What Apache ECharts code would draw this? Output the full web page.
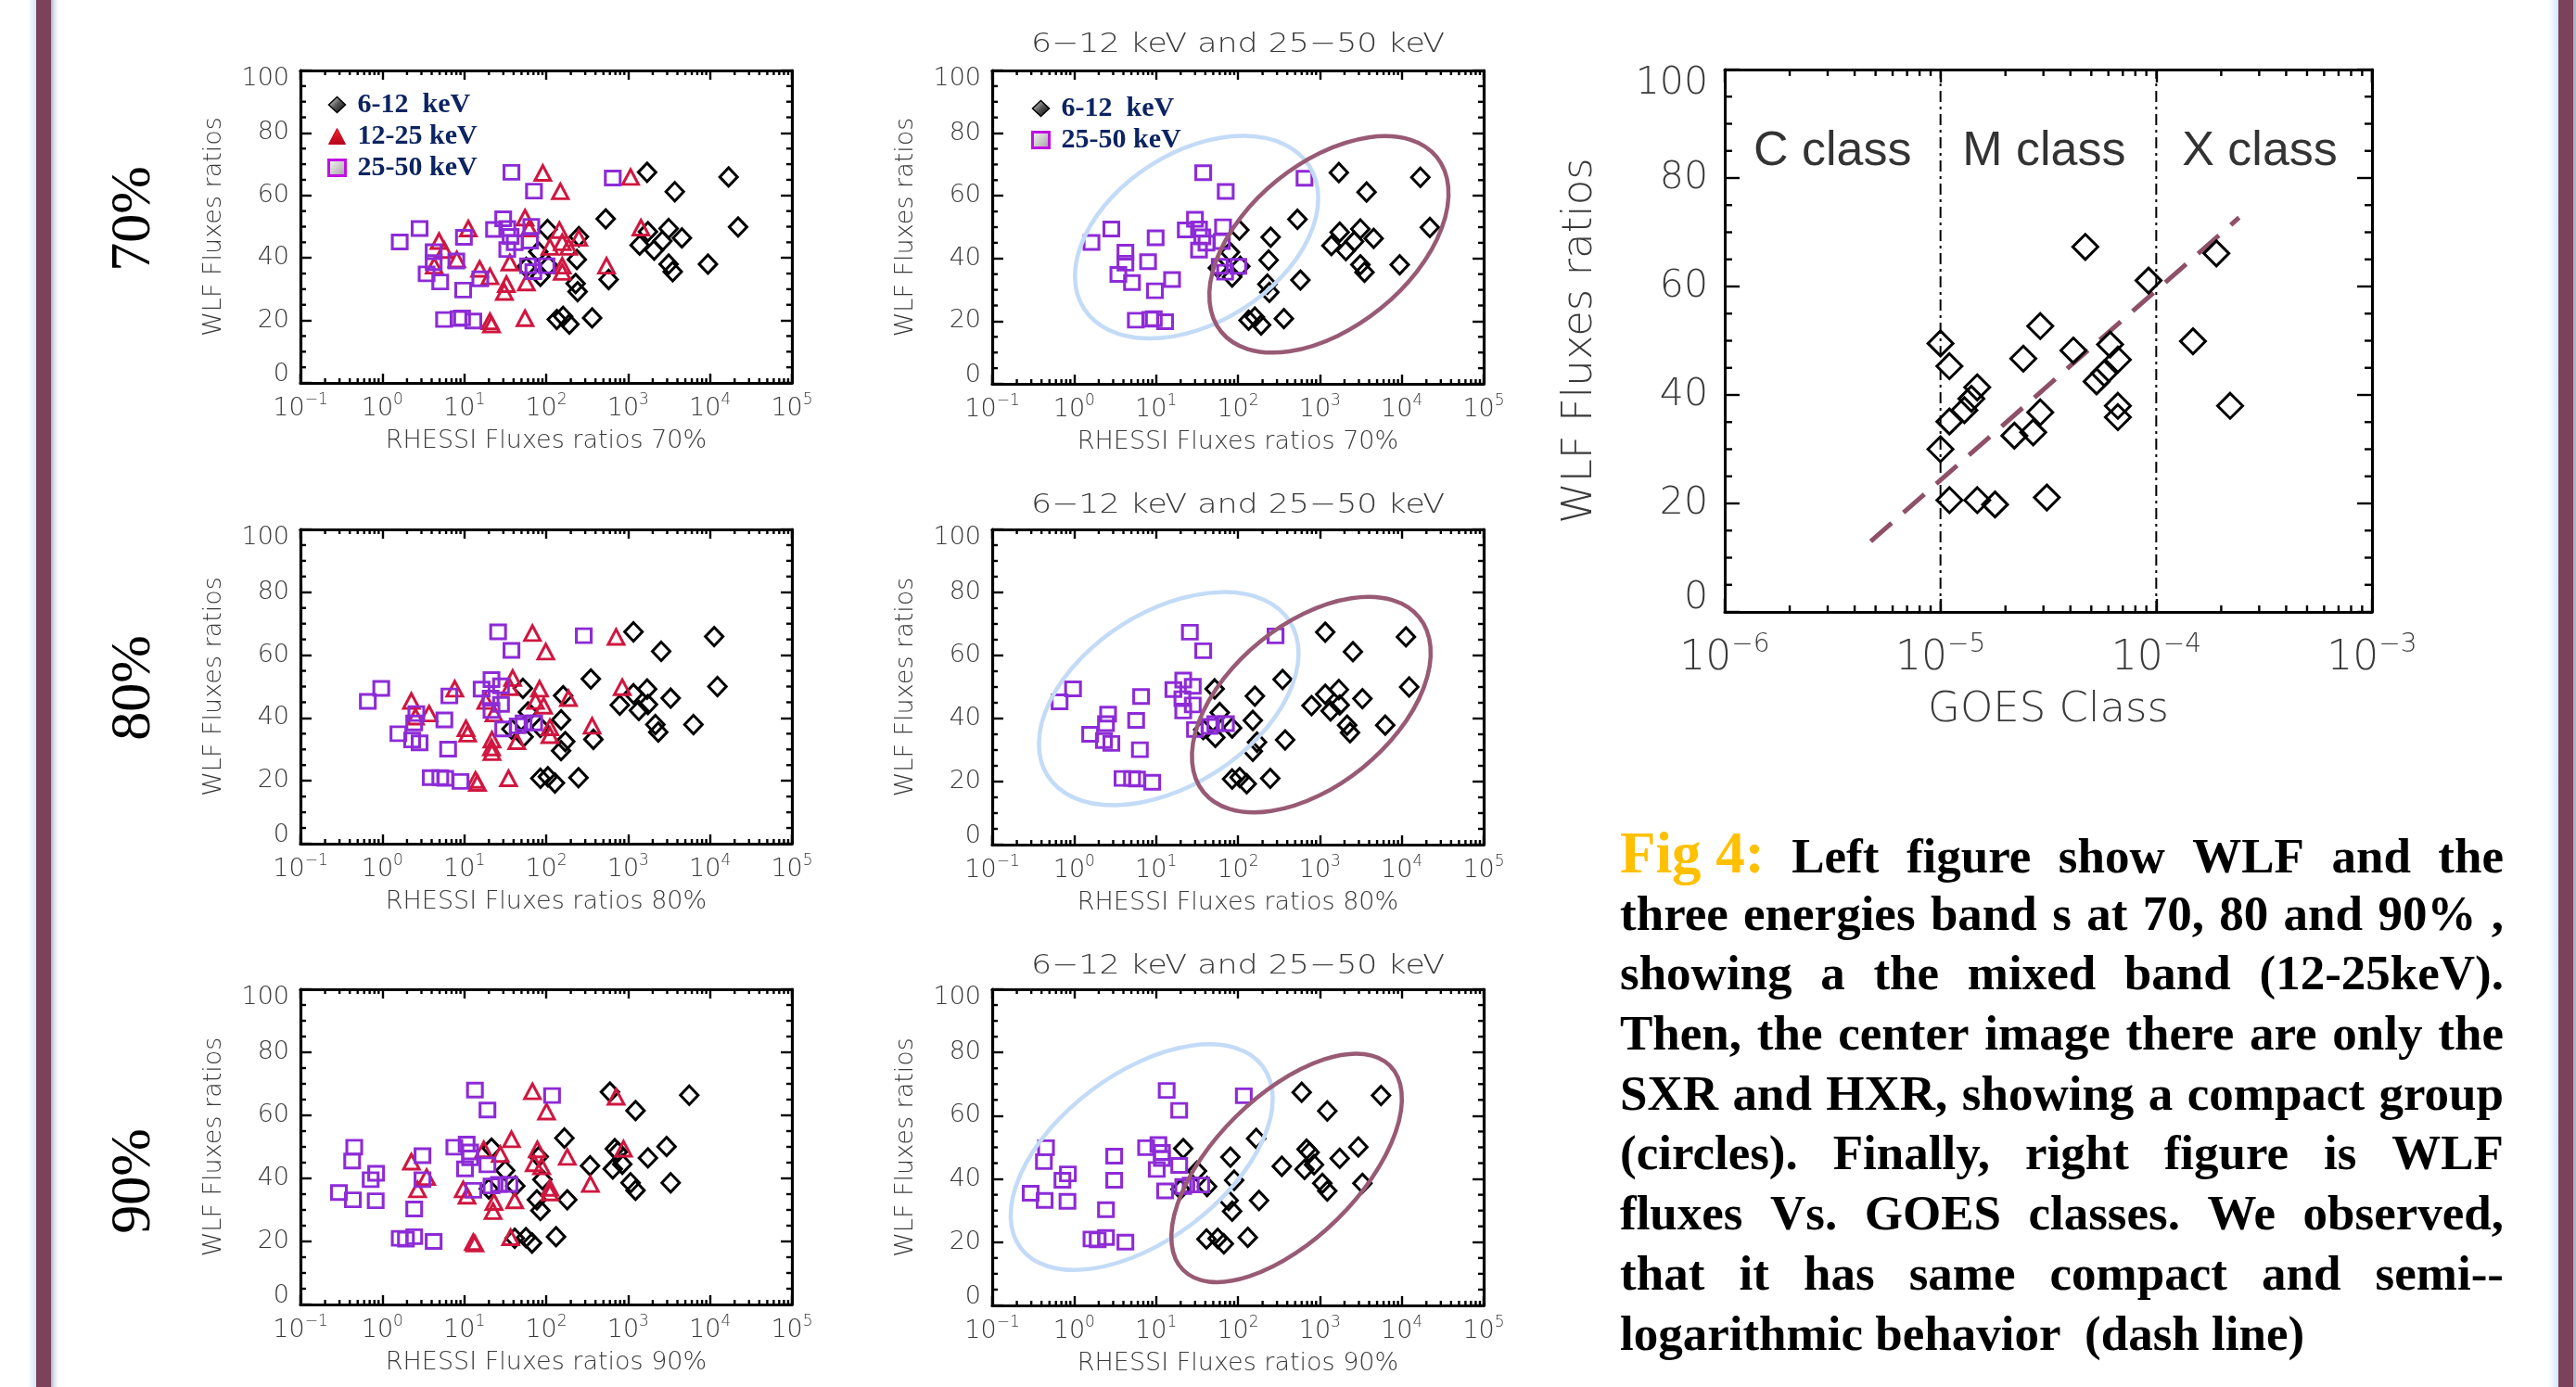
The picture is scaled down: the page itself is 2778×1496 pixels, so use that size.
<!DOCTYPE html>
<html>
<head>
<meta charset="utf-8">
<script src="https://cdn.jsdelivr.net/npm/echarts@6/dist/echarts.min.js"></script>
<style>
html,body{margin:0;padding:0;background:#fff;}
#chart{position:absolute;left:0;top:0;width:2778px;height:1496px;}
#cap{position:absolute;left:1747px;top:888px;width:953px;font-family:'Liberation Serif','Times New Roman',serif;font-weight:bold;font-size:53px;line-height:64.7px;color:#000;}
#cap .l{display:flex;justify-content:space-between;align-items:baseline;white-space:nowrap;height:64.7px;}
#cap .last{justify-content:flex-start;white-space:pre;}
#cap .fig{color:#FFC000;font-size:63px;}
</style>
</head>
<body>
<div id="chart"></div>
<div id="cap"></div>
<script>
// ---------------- data ----------------
const rowLabels = ['70%', '80%', '90%'];
const xAxisNames = ['RHESSI Fluxes ratios 70%', 'RHESSI Fluxes ratios 80%', 'RHESSI Fluxes ratios 90%'];
const yAxisName = 'WLF Fluxes ratios';
const centerTitle = '6\u221212 keV and 25\u221250 keV';
const bandNames = ['6-12  keV', '12-25 keV', '25-50 keV'];

// 70 %
const d70 = [[1707,67.4],[16870,65.9],[3720,61.2],[533,52.5],[104,49.1],[251,46.8],[1384,44.1],[1747,48.4],[2080,42.5],[2624,45.4],[3126,49.4],[4540,46.4],[22030,49.9],[9440,38.0],[3126,38.0],[3508,35.6],[237,39.5],[579,33.1],[229,31.8],[242,29.2],[107,37.5],[85,34.1],[57,37.0],[80,42.0],[135,20.3],[161,21.3],[192,18.8],[364,20.8]];
const t70 = [[91,67.2],[149,61.3],[1072,65.9],[1435,49.7],[11.2,49.4],[4.92,45.4],[5.7,42.5],[8.1,39.5],[4.3,37.5],[15.4,36.5],[20.6,34.1],[32.7,31.6],[30.9,29.1],[36.0,38.5],[55.2,52.9],[62.1,49.4],[57.3,32.1],[145,48.9],[250,46.4],[111,43.5],[157,45.0],[188,43.5],[157,37.5],[157,35.5],[546,37.5],[20.6,19.7],[21.5,18.7],[55.2,20.7]];
const s70 = [[37.7,67.4],[71,61.4],[1.63,45.1],[2.85,49.4],[4.23,42.0],[4.23,38.5],[3.47,34.9],[5.09,32.3],[8.0,39.0],[9.9,46.6],[9.7,29.7],[15.7,33.3],[5.67,20.3],[8.5,20.6],[9.4,20.8],[12.9,19.8],[23.1,49.1],[29.9,52.5],[33.5,49.4],[36.8,46.9],[33.5,42.7],[41.3,44.9],[65.8,50.1],[63.5,45.4],[60,37.5],[69.7,35.6],[101,37.5],[650,65.6]];
// 80 %
const d80 = [[1164,67.4],[11250,65.9],[2535,61.2],[351,52.4],[52,49.4],[161,47.1],[792,44.1],[1164,47.7],[1353,42.4],[1707,49.2],[1747,44.3],[3311,46.3],[12330,50.0],[6283,37.9],[2154,37.9],[2337,35.5],[152,39.4],[377,33.2],[171,32.5],[152,29.6],[85,37.0],[53,34.0],[37.7,36.5],[60,41.9],[85,20.8],[105,21.3],[128,19.3],[248,21.0]];
const t80 = [[68,67.0],[99,61.1],[714,65.8],[849,49.8],[7.66,49.3],[2.26,45.4],[3.72,41.4],[2.54,40.4],[10.5,36.7],[11.0,35.0],[21.8,33.1],[21.5,30.6],[21.8,29.1],[39,52.7],[36,49.8],[23.1,41.4],[18.3,45.4],[43.8,32.6],[83,49.3],[74,45.4],[93,43.9],[187,46.3],[111,37.0],[111,34.5],[364,37.5],[13.7,20.3],[14.5,19.3],[34.7,20.8]];
const s80 = [[25.9,67.4],[37.7,61.5],[0.665,45.3],[0.97,49.4],[2.6,41.4],[2.45,38.4],[1.57,35.0],[2.31,33.0],[2.85,32.1],[5.72,39.4],[6.58,47.0],[6.35,30.1],[3.9,21.0],[5.1,21.0],[5.86,20.8],[9.0,19.8],[16.3,49.2],[21.5,52.2],[28.1,50.2],[21.0,46.3],[21.5,42.4],[28.1,44.3],[29.9,36.5],[44.9,37.5],[53,38.4],[71.4,38.4],[288,66.2]];
// 90 %
const d90 = [[600,67.4],[5585,66.4],[1233,61.5],[167,52.8],[21.5,49.6],[81,46.9],[343,44.0],[650,43.0],[689,49.4],[750,48.4],[849,44.5],[1747,46.5],[2951,50.1],[3311,38.6],[1072,38.6],[1233,36.2],[90,39.6],[181,33.2],[77,33.2],[85,29.8],[42,37.6],[31.6,42.5],[19.9,36.7],[41.3,21.0],[56.6,21.2],[67.3,19.5],[132,21.5]];
const t90 = [[68,67.6],[101,61.2],[714,65.9],[879,49.4],[37.7,52.4],[27.5,47.7],[17.3,49.2],[2.26,45.3],[3.47,40.4],[2.69,36.5],[9.7,36.5],[10.8,34.5],[23.1,32.5],[22.5,29.6],[41.3,33.0],[78,49.2],[71.5,44.8],[88,43.8],[181,46.8],[111,37.0],[111,35.5],[347,38.2],[12.9,19.8],[13.5,19.3],[36.8,21.3]];
const s90 = [[13.5,68.0],[19.2,61.7],[118,66.3],[0.454,49.9],[0.428,45.5],[0.295,35.5],[0.437,33.2],[0.72,39.6],[0.84,41.6],[0.83,32.9],[3.09,47.2],[3.09,39.6],[2.45,30.3],[1.63,21.0],[1.94,20.7],[2.45,21.5],[4.23,20.0],[7.57,49.9],[10.7,50.9],[11.8,48.4],[10.2,43.0],[11.8,46.5],[19.2,44.3],[12.9,36.2],[21.5,37.6],[26.5,38.1],[35.6,38.1]];

// group ellipse centres (data units) for the centre panels
const blueCentres = [[31.3,46.8],[14.3,46.3],[6.69,46.9]];
const purpleCentres = [[1291,44.5],[787,44.4],[393,43.5]];

// GOES panel
const goesX = [1.0e-5,1.10e-5,1.48e-5,1.39e-5,1.29e-5,1.10e-5,1.0e-5,1.10e-5,1.48e-5,1.79e-5,2.20e-5,2.69e-5,2.90e-5,2.42e-5,2.90e-5,3.11e-5,4.13e-5,4.69e-5,5.29e-5,5.74e-5,6.11e-5,6.64e-5,6.64e-5,6.64e-5,9.21e-5,1.48e-4,1.90e-4,2.20e-4];
const goesY = [49.5,45.3,41.4,39.3,37.2,35.1,30.0,20.6,20.6,19.8,32.5,33.1,36.8,46.7,52.7,21.1,48.2,67.3,42.5,44.0,49.3,46.5,38.0,35.9,61.1,49.9,66.1,38.0];
const fitX = [4.75e-6, 2.42e-4];
const fitY = [13.0, 72.7];
const classBounds = [1e-5, 1e-4];
const classNames = ['C class', 'M class', 'X class'];
const classX = [3.16e-6, 3.02e-5, 3.02e-4];
const classY = [84.8, 84.8, 84.8];

const capPrefix = 'Fig 4:';
const capLines = [
  'Left figure show WLF and the',
  'three energies band s at  70, 80 and 90% ,',
  'showing a the mixed band (12-25keV).',
  'Then, the center image there are only the',
  'SXR and HXR, showing a compact group',
  '(circles). Finally, right figure is WLF',
  'fluxes Vs. GOES classes. We observed,',
  'that it has same compact and semi--',
  'logarithmic behavior  (dash line)'
];

// ---------------- styles ----------------
const FONT_IDL = "'DejaVu Sans', 'Liberation Sans', sans-serif";
const IDL_W = 200;
const IDL_C = '#3a3a3a';
const C_DIAM = '#000000', C_TRI = '#d0163f', C_SQ = '#8d2bd6';
const C_BLUE = '#c3dbf7', C_PURP = '#985a74';

const smallBoxes = [
  [324, 76, 530, 337], [1070, 76, 530, 338],
  [324, 571, 530, 339], [1070, 571, 530, 340],
  [324, 1067, 530, 340], [1070, 1067, 530, 341]
];
const bigBox = [1860, 75, 698, 585];
const ellipseShapes = [
  {blue:{rx:143.8, ry:92.0, rot:32.2}, purple:{rx:149.6, ry:88.8, rot:39.0}},
  {blue:{rx:154.8, ry:94.1, rot:32.5}, purple:{rx:149.7, ry:87.7, rot:39.0}},
  {blue:{rx:163.2, ry:90.2, rot:36.9}, purple:{rx:156.8, ry:77.8, rot:44.6}}
];

// ---------------- helpers ----------------
const grids = [], xAxes = [], yAxes = [], series = [];

function logLabel(fs, ss) {
  return {
    formatter: v => { const e = Math.round(Math.log10(v)); return '{b|10}{s|' + (e < 0 ? '\u2212' + (-e) : e) + '}'; },
    rich: {
      b: {fontSize: fs, lineHeight: Math.round(fs * 1.32), fontFamily: FONT_IDL, fontWeight: IDL_W, color: IDL_C},
      s: {fontSize: ss, lineHeight: ss, verticalAlign: 'top', fontFamily: FONT_IDL, fontWeight: IDL_W, color: IDL_C}
    }
  };
}
function yLabel(fs, shift) {
  const base = {fontSize: fs, fontFamily: FONT_IDL, fontWeight: IDL_W, color: IDL_C};
  return Object.assign({}, base, {
    formatter: v => v === 100 ? '{t|100}' : (v === 0 ? '{z|0}' : String(v)),
    rich: {t: Object.assign({padding: [shift * 2, 0, 0, 0]}, base), z: Object.assign({padding: [0, 0, shift * 2, 0]}, base)}
  });
}
function logMinor(minV, maxV) {
  const out = [];
  for (let e = Math.round(Math.log10(minV)); e < Math.round(Math.log10(maxV)); e++)
    for (let k = 2; k <= 9; k++) out.push(Number((k * Math.pow(10, e)).toPrecision(3)));
  return out;
}
function linMinor() {
  const out = [];
  for (let v = 5; v < 100; v += 5) if (v % 20 !== 0) out.push(v);
  return out;
}
function minorSeries(xi, yi, o) {
  const xs = logMinor(o.xMin, o.xMax), ys = linMinor();
  const st = {stroke: '#000', lineWidth: o.tw};
  return [{
    type: 'custom', coordinateSystem: 'cartesian2d', xAxisIndex: xi, yAxisIndex: yi, silent: true, animation: false, clip: false, z: 1,
    data: xs.map(v => [v, 0]),
    renderItem: (p, api) => {
      const v = api.value(0), b = api.coord([v, 0]), t = api.coord([v, 100]);
      return {type: 'group', children: [
        {type: 'line', shape: {x1: b[0], y1: b[1], x2: b[0], y2: b[1] - o.minX}, style: st},
        {type: 'line', shape: {x1: t[0], y1: t[1], x2: t[0], y2: t[1] + o.minX}, style: st}]};
    }
  }, {
    type: 'custom', coordinateSystem: 'cartesian2d', xAxisIndex: xi, yAxisIndex: yi, silent: true, animation: false, clip: false, z: 1,
    data: ys.map(v => [o.xMin, v]),
    renderItem: (p, api) => {
      const v = api.value(1), l = api.coord([o.xMin, v]), r = api.coord([o.xMax, v]);
      return {type: 'group', children: [
        {type: 'line', shape: {x1: l[0], y1: l[1], x2: l[0] + o.minY, y2: l[1]}, style: st},
        {type: 'line', shape: {x1: r[0], y1: r[1], x2: r[0] - o.minY, y2: r[1]}, style: st}]};
    }
  }];
}
function addFrame(box, o) {
  const gi = grids.length;
  grids.push({left: box[0], top: box[1], width: box[2], height: box[3], containLabel: false});
  const line = {show: true, onZero: false, lineStyle: {color: '#000', width: o.lw}};
  const xi = xAxes.length, yi = yAxes.length;
  const nameStyle = {fontSize: o.nfs, fontFamily: FONT_IDL, fontWeight: IDL_W, color: IDL_C};
  const xBase = {type: 'log', logBase: 10, gridIndex: gi, min: o.xMin, max: o.xMax, splitNumber: o.xSplit,
    splitLine: {show: false}, axisLine: line,
    axisTick: {show: true, inside: true, length: o.tickX, lineStyle: {color: '#000', width: o.tw}}};
  xAxes.push(Object.assign({}, xBase, {position: 'bottom',
    axisLabel: Object.assign({show: true, interval: 0, margin: o.xMargin, showMinLabel: true, showMaxLabel: true, hideOverlap: false}, logLabel(o.xfs, o.xss)),
    name: o.xName, nameLocation: 'middle', nameGap: o.xGap, nameTextStyle: nameStyle}));
  xAxes.push(Object.assign({}, xBase, {position: 'top', axisLabel: {show: false}}));
  const yBase = {type: 'value', gridIndex: gi, min: 0, max: 100, interval: 20, splitLine: {show: false}, axisLine: line,
    axisTick: {show: true, inside: true, length: o.tickY, lineStyle: {color: '#000', width: o.tw}}};
  yAxes.push(Object.assign({}, yBase, {position: 'left',
    axisLabel: Object.assign({show: true, margin: o.yMargin, showMinLabel: true, showMaxLabel: true}, yLabel(o.yfs, o.yShift)),
    name: yAxisName, nameLocation: 'middle', nameRotate: 90, nameGap: o.yGap, nameTextStyle: nameStyle}));
  yAxes.push(Object.assign({}, yBase, {position: 'right', axisLabel: {show: false}}));
  minorSeries(xi, yi, o).forEach(s => series.push(s));
  return {xi, yi};
}
function scat(name, data, symbol, size, color, ax, bw) {
  return {type: 'scatter', name, xAxisIndex: ax.xi, yAxisIndex: ax.yi, data, symbol, symbolSize: size,
    itemStyle: {color: 'rgba(0,0,0,0)', borderColor: color, borderWidth: bw, opacity: 1},
    emphasis: {disabled: true}, animation: false, z: 3};
}
function ellipseSeries(ax, centre, shp, color) {
  return {type: 'custom', coordinateSystem: 'cartesian2d', xAxisIndex: ax.xi, yAxisIndex: ax.yi,
    data: [centre], silent: true, animation: false, clip: false, z: 6,
    renderItem: (p, api) => {
      const c = api.coord([api.value(0), api.value(1)]);
      const rx = shp.rx, ry = shp.ry;
      return {type: 'path', x: c[0], y: c[1], rotation: shp.rot * Math.PI / 180,
        shape: {pathData: 'M ' + (-rx) + ' 0 A ' + rx + ' ' + ry + ' 0 1 0 ' + rx + ' 0 A ' + rx + ' ' + ry + ' 0 1 0 ' + (-rx) + ' 0 Z'},
        style: {fill: 'none', stroke: color, lineWidth: 4.5}};
    }};
}

// ---------------- small panels ----------------
const rowData = [[d70, t70, s70], [d80, t80, s80], [d90, t90, s90]];
const smallOpt = {xMin: 0.1, xMax: 1e5, xSplit: 6, lw: 3.2, tw: 2.4, tickX: 10, tickY: 12, minX: 5, minY: 6,
  xMargin: 10, xfs: 27, xss: 17, nfs: 27, xGap: 49, yMargin: 12, yfs: 27, yShift: 9, yGap: 80};
const DS = [19, 20], TS = [17, 16], SS = [16, 15];
for (let r = 0; r < 3; r++) {
  const [dd, tt, ss] = rowData[r];
  const axL = addFrame(smallBoxes[r * 2], Object.assign({}, smallOpt, {xName: xAxisNames[r]}));
  series.push(scat(bandNames[0], dd, 'diamond', DS, C_DIAM, axL, 3));
  series.push(scat(bandNames[1], tt, 'triangle', TS, C_TRI, axL, 3));
  series.push(scat(bandNames[2], ss, 'rect', SS, C_SQ, axL, 3));
  const axC = addFrame(smallBoxes[r * 2 + 1], Object.assign({}, smallOpt, {xName: xAxisNames[r]}));
  series.push(scat(bandNames[0], dd, 'diamond', DS, C_DIAM, axC, 3));
  series.push(scat(bandNames[2], ss, 'rect', SS, C_SQ, axC, 3));
  series.push(ellipseSeries(axC, blueCentres[r], ellipseShapes[r].blue, C_BLUE));
  series.push(ellipseSeries(axC, purpleCentres[r], ellipseShapes[r].purple, C_PURP));
}

// ---------------- GOES panel ----------------
const axG = addFrame(bigBox, {xMin: 1e-6, xMax: 1e-3, xSplit: 3, lw: 3, tw: 2.4, tickX: 14, tickY: 16, minX: 7, minY: 8,
  xMargin: 22, xfs: 44, xss: 28, nfs: 45, xGap: 84, yMargin: 18, yfs: 41, yShift: 15, yGap: 133, xName: 'GOES Class'});
// class boundaries (dash-dot verticals spanning the y range)
classBounds.forEach(b => series.push({type: 'line', xAxisIndex: axG.xi, yAxisIndex: axG.yi,
  data: [[b, 0], [b, 100]], showSymbol: false, symbol: 'none', silent: true, animation: false, z: 2,
  lineStyle: {color: '#000', width: 2, type: [12, 5, 3, 5]}}));
series.push({type: 'line', xAxisIndex: axG.xi, yAxisIndex: axG.yi, data: fitX.map((x, i) => [x, fitY[i]]),
  showSymbol: false, symbol: 'none', silent: true, animation: false, z: 2,
  lineStyle: {color: '#8e5068', width: 5, type: [30, 17]}});
series.push(scat('GOES', goesX.map((x, i) => [x, goesY[i]]), 'diamond', [27, 27], '#000', axG, 3));
series.push({type: 'scatter', xAxisIndex: axG.xi, yAxisIndex: axG.yi, symbolSize: 0, silent: true, animation: false,
  data: classX.map((x, i) => ({value: [x, classY[i]], name: classNames[i]})),
  label: {show: true, position: 'inside', formatter: '{b}', fontSize: 52, fontFamily: "'Liberation Sans', Arial, sans-serif", color: '#000'}});

// ---------------- legends ----------------
const legIcon = {
  [bandNames[0]]: {icon: 'diamond', itemStyle: {color: {type: 'linear', x: 0, y: 0, x2: 1, y2: 1, colorStops: [{offset: 0, color: '#f2f2f2'}, {offset: 0.5, color: '#555'}, {offset: 1, color: '#000'}]}, borderColor: '#000', borderWidth: 1.5}},
  [bandNames[1]]: {icon: 'triangle', itemStyle: {color: {type: 'linear', x: 0, y: 0, x2: 0, y2: 1, colorStops: [{offset: 0, color: '#ff2a2a'}, {offset: 1, color: '#b0001c'}]}, borderColor: '#c0001f', borderWidth: 1}},
  [bandNames[2]]: {icon: 'rect', itemStyle: {color: {type: 'linear', x: 0, y: 0, x2: 1, y2: 1, colorStops: [{offset: 0, color: '#ffffff'}, {offset: 1, color: '#9a9a9a'}]}, borderColor: '#c010e0', borderWidth: 3}}
};
const legText = {fontFamily: "'Liberation Serif', 'Times New Roman', serif", fontWeight: 'bold', fontSize: 30, lineHeight: 27, color: '#0c2461', padding: [0, 0, 0, 8]};
function legend(left, top, names) {
  return {left, top, orient: 'vertical', itemWidth: 18, itemHeight: 17, itemGap: 4, selectedMode: false,
    textStyle: legText, data: names.map(n => Object.assign({name: n}, legIcon[n]))};
}

// ---------------- graphics (frame bars, row labels, titles) ----------------
const graphic = [
  {type: 'rect', shape: {x: 30, y: 0, width: 9, height: 1496}, style: {fill: {type: 'linear', x: 0, y: 0, x2: 1, y2: 0, colorStops: [{offset: 0, color: 'rgba(214,234,255,0)'}, {offset: 1, color: '#d2e7fd'}]}}, silent: true},
  {type: 'rect', shape: {x: 39, y: 0, width: 16, height: 1496}, style: {fill: '#7b4259'}, silent: true},
  {type: 'rect', shape: {x: 55, y: 0, width: 10, height: 1496}, style: {fill: {type: 'linear', x: 0, y: 0, x2: 1, y2: 0, colorStops: [{offset: 0, color: '#a8b9ca'}, {offset: 1, color: 'rgba(255,255,255,0)'}]}}, silent: true},
  {type: 'rect', shape: {x: 2748, y: 0, width: 11, height: 1496}, style: {fill: {type: 'linear', x: 0, y: 0, x2: 1, y2: 0, colorStops: [{offset: 0, color: 'rgba(214,234,255,0)'}, {offset: 1, color: '#d2e7fd'}]}}, silent: true},
  {type: 'rect', shape: {x: 2759, y: 0, width: 16, height: 1496}, style: {fill: '#7b4259'}, silent: true},
  {type: 'rect', shape: {x: 2775, y: 0, width: 3, height: 1496}, style: {fill: '#a9b7c6'}, silent: true}
];
const rowLabelY = [236, 742, 1274];
rowLabels.forEach((t, i) => graphic.push({type: 'text', x: 145, y: rowLabelY[i], rotation: Math.PI / 2, silent: true,
  style: {text: t, align: 'center', verticalAlign: 'middle', fontSize: 62, fontFamily: "'Liberation Serif', 'Times New Roman', serif", fill: '#000'}}));
const titleY = [48, 545, 1042];
titleY.forEach(y => graphic.push({type: 'text', x: 1335, y, scaleX: 1.2, silent: true,
  style: {text: centerTitle, align: 'center', verticalAlign: 'middle', fontSize: 29, fontFamily: FONT_IDL, fontWeight: IDL_W, fill: IDL_C}}));

// ---------------- chart ----------------
const chart = echarts.init(document.getElementById('chart'), null, {renderer: 'canvas', width: 2778, height: 1496});
chart.setOption({
  backgroundColor: '#ffffff',
  animation: false,
  grid: grids,
  xAxis: xAxes,
  yAxis: yAxes,
  legend: [legend(348, 93, bandNames), legend(1107, 97, [bandNames[0], bandNames[2]])],
  graphic: graphic,
  series: series
});

// ---------------- caption ----------------
const cap = document.getElementById('cap');
capLines.forEach((line, i) => {
  const div = document.createElement('div');
  const last = i === capLines.length - 1;
  div.className = 'l' + (last ? ' last' : '');
  if (last) {
    div.textContent = line;
  } else {
    if (i === 0) {
      const f = document.createElement('span');
      f.className = 'fig'; f.textContent = capPrefix; div.appendChild(f);
    }
    line.split(/\s+/).forEach(w => { const s = document.createElement('span'); s.textContent = w; div.appendChild(s); });
  }
  cap.appendChild(div);
});
</script>
</body>
</html>
